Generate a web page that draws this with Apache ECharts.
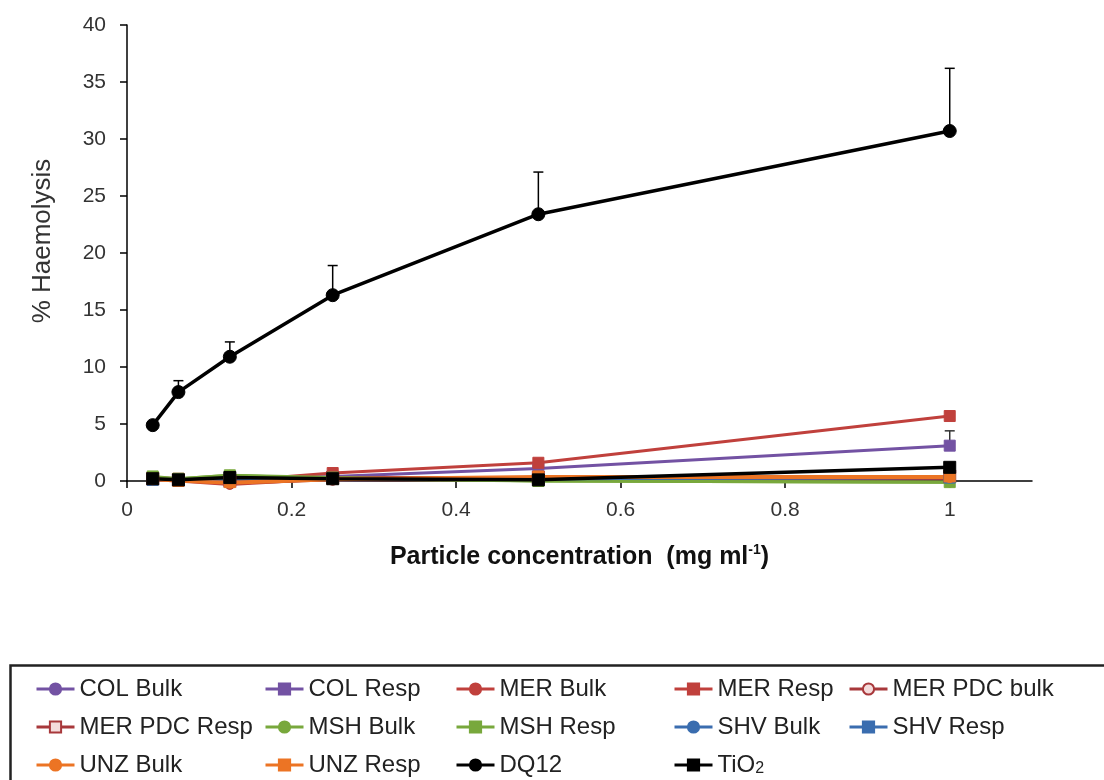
<!DOCTYPE html>
<html>
<head>
<meta charset="utf-8">
<script src="https://cdn.jsdelivr.net/npm/echarts@6/dist/echarts.min.js"></script>
<style>
html,body{margin:0;padding:0;background:#fff;}
#chart{width:1104px;height:780px;}
</style>
</head>
<body>
<div id="chart"></div>
<script>
// ---- data ----
var concentrations = [0.03125, 0.0625, 0.125, 0.25, 0.5, 1];
var xTicks = [0, 0.2, 0.4, 0.6, 0.8, 1];

var colBulk    = [0.1, 0.1, 0.2, 0.1, 0.2, 0.3];
var colResp    = [0.3, 0.1, 0.3, 0.4, 1.1, 3.1];
var merBulk    = [0.1, 0.0, -0.3, 0.2, 0.2, 0.3];
var merResp    = [0.3, 0.2, 0.0, 0.7, 1.6, 5.7];
var merPdcBulk = [0.2, 0.1, -0.2, 0.1, 0.1, 0.2];
var merPdcResp = [0.2, 0.1, 0.0, 0.3, 0.3, 0.4];
var mshBulk    = [0.3, 0.2, 0.5, 0.2, 0.0, -0.1];
var mshResp    = [0.4, 0.2, 0.5, 0.3, 0.0, -0.1];
var shvBulk    = [0.1, 0.1, 0.2, 0.1, 0.2, 0.3];
var shvResp    = [0.1, 0.1, 0.2, 0.2, 0.2, 0.3];
var unzBulk    = [0.1, 0.0, -0.2, 0.1, 0.3, 0.3];
var unzResp    = [0.2, 0.0, -0.1, 0.2, 0.4, 0.4];
var dq12       = [4.9, 7.8, 10.9, 16.3, 23.4, 30.7];
var tio2       = [0.2, 0.1, 0.3, 0.2, 0.1, 1.2];

var dq12Err    = [0.3, 1.0, 1.3, 2.6, 3.7, 5.5];
var colRespErr = [0.1, 0.1, 0.1, 0.1, 0.2, 1.3];

// legend layout: rows of names (reading order left to right)
var legendRows = [
  ['COL Bulk', 'COL Resp', 'MER Bulk', 'MER Resp', 'MER PDC bulk'],
  ['MER PDC Resp', 'MSH Bulk', 'MSH Resp', 'SHV Bulk', 'SHV Resp'],
  ['UNZ Bulk', 'UNZ Resp', 'DQ12', 'TiO2']
];

// ---- build ----
function pairs(vals){ return concentrations.map(function(x,i){ return [x, vals[i]]; }); }
function errPairs(vals, errs){ return concentrations.map(function(x,i){ return [x, vals[i], errs[i]]; }); }

function lineSeries(name, vals, color, symbol, size, width, fill, border){
  return {
    name: name, type: 'line', data: pairs(vals),
    symbol: symbol, symbolSize: size, showAllSymbol: true, clip: false,
    lineStyle: { color: color, width: width },
    itemStyle: { color: fill || color, borderColor: border || color, borderWidth: fill ? 2 : 1 },
    emphasis: { disabled: true }
  };
}

function errorSeries(vals, errs, color){
  return {
    type: 'custom', data: errPairs(vals, errs), z: 1, clip: false,
    encode: { x: 0, y: 1 },
    renderItem: function(params, api){
      var x = api.value(0), y = api.value(1), e = api.value(2);
      var p0 = api.coord([x, y]), p1 = api.coord([x, y + e]);
      return { type: 'group', children: [
        { type: 'line', shape: { x1: p0[0], y1: p0[1], x2: p1[0], y2: p1[1] }, style: { stroke: color, lineWidth: 1.5 } },
        { type: 'line', shape: { x1: p1[0]-5, y1: p1[1], x2: p1[0]+5, y2: p1[1] }, style: { stroke: color, lineWidth: 1.5 } }
      ]};
    }
  };
}

var PURPLE = '#7352a3', RED = '#c0403c', PDC = '#a8383b', GREEN = '#78a83c', BLUE = '#3a6daf', ORANGE = '#ec7424';

var series = [
  errorSeries(colResp, colRespErr, '#333'),
  errorSeries(dq12, dq12Err, '#000'),
  lineSeries('COL Bulk', colBulk, PURPLE, 'circle', 10, 3),
  lineSeries('COL Resp', colResp, PURPLE, 'rect', 11, 3),
  lineSeries('MER Bulk', merBulk, RED, 'circle', 10, 3),
  lineSeries('MER Resp', merResp, RED, 'rect', 11, 3),
  lineSeries('MER PDC bulk', merPdcBulk, PDC, 'circle', 10, 3, '#f4dcdc', PDC),
  lineSeries('MER PDC Resp', merPdcResp, PDC, 'rect', 11, 3, '#f4dcdc', PDC),
  lineSeries('MSH Bulk', mshBulk, GREEN, 'circle', 10, 3),
  lineSeries('MSH Resp', mshResp, GREEN, 'rect', 11, 3),
  lineSeries('SHV Bulk', shvBulk, BLUE, 'circle', 10, 3),
  lineSeries('SHV Resp', shvResp, BLUE, 'rect', 11, 3),
  lineSeries('UNZ Bulk', unzBulk, ORANGE, 'circle', 10, 3),
  lineSeries('UNZ Resp', unzResp, ORANGE, 'rect', 11, 3),
  lineSeries('DQ12', dq12, '#000', 'circle', 13, 3.5),
  lineSeries('TiO2', tio2, '#000', 'rect', 12, 3.5)
];

var FONT = '"Liberation Sans", Arial, sans-serif';
var colLefts = [35, 264, 455, 673, 848];
var rowTops = [675, 713, 751];
var legends = [];
legendRows.forEach(function(row, r){
  row.forEach(function(name, c){
    legends.push({
      data: [name], left: colLefts[c], top: rowTops[r], padding: 0,
      itemWidth: 38, itemHeight: 14, selectedMode: false,
      lineStyle: { width: 3 },
      formatter: function(n){ return n === 'TiO2' ? '{a|TiO}{s|2}' : n; },
      textStyle: {
        fontFamily: FONT, fontSize: 24, color: '#222', lineHeight: 28,
        rich: {
          a: { fontFamily: FONT, fontSize: 24, color: '#222', lineHeight: 28 },
          s: { fontFamily: FONT, fontSize: 16, color: '#222', lineHeight: 28, padding: [8, 0, 0, 0] }
        }
      }
    });
  });
});

var option = {
  animation: false,
  backgroundColor: '#fff',
  grid: { left: 127, right: 72, top: 25, bottom: 299, containLabel: false },
  xAxis: {
    type: 'value', min: 0, max: 1.1, interval: 0.2,
    name: '{a|Particle concentration  (mg ml}{s|-1}{a|)}',
    nameLocation: 'middle', nameGap: 62,
    nameTextStyle: {
      rich: {
        a: { fontFamily: FONT, fontSize: 25, fontWeight: 'bold', color: '#111' },
        s: { fontFamily: FONT, fontSize: 14, fontWeight: 'bold', color: '#111', padding: [0, 0, 14, 0] }
      }
    },
    axisLine: { onZero: false, lineStyle: { color: '#000', width: 1.5 } },
    axisTick: { show: true, length: 7, customValues: xTicks, lineStyle: { color: '#000', width: 1.5 } },
    axisLabel: { customValues: xTicks, margin: 19, fontFamily: FONT, fontSize: 21, color: '#333',
      formatter: function(v){ return String(Math.round(v*10)/10); } },
    splitLine: { show: false }
  },
  yAxis: {
    type: 'value', min: 0, max: 40, interval: 5,
    axisLine: { lineStyle: { color: '#000', width: 1.5 } },
    axisTick: { show: true, length: 7, lineStyle: { color: '#000', width: 1.5 } },
    axisLabel: { margin: 21, fontFamily: FONT, fontSize: 21, color: '#333' },
    splitLine: { show: false }
  },
  legend: legends,
  graphic: [
    {
      type: 'rect', left: 8, top: 663, silent: true,
      shape: { width: 1120, height: 140 },
      style: { fill: 'none', stroke: '#222', lineWidth: 2.5 }
    },
    {
      type: 'text', x: 43, y: 241, rotation: Math.PI / 2, silent: true,
      style: { text: '% Haemolysis', fontFamily: FONT, fontSize: 26, fill: '#333', align: 'center', verticalAlign: 'middle' }
    }
  ],
  series: series
};

var chart = echarts.init(document.getElementById('chart'), null, { renderer: 'canvas' });
chart.setOption(option);
</script>
</body>
</html>
